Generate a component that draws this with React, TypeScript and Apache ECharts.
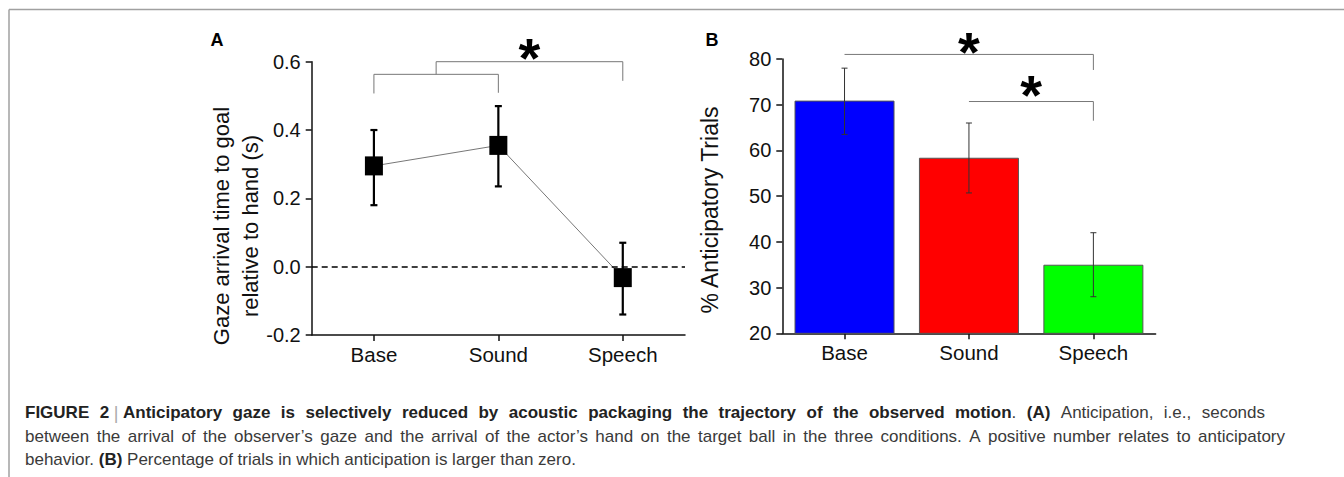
import React, { useEffect, useRef } from "react";
import * as echarts from "echarts";

const categories = ["Base", "Sound", "Speech"];

// Panel A: gaze arrival time (s)
const gazeMean = [0.295, 0.355, -0.032];
const gazeLow = [0.18, 0.235, -0.14];
const gazeHigh = [0.4, 0.47, 0.07];
const gazeMin = -0.2;
const gazeMax = 0.6;
const gazeStep = 0.2;

// Panel B: % anticipatory trials
const pctMean = [70.9, 58.4, 35.0];
const pctLow = [63.5, 50.7, 28.0];
const pctHigh = [78.0, 66.0, 42.0];
const pctMin = 20;
const pctMax = 80;
const pctStep = 10;
const barColors = ["#0000FF", "#FF0000", "#00FF00"];

// significance brackets: from/to category positions, bar level, left/right end levels
const bracketsA = [
  { from: 0, to: 1, top: 0.563, endL: 0.507, endR: 0.509 },
  { from: 0.5, to: 2, top: 0.6, endL: 0.563, endR: 0.544 },
];
const starsA = [1];
const bracketsB = [
  { from: 0, to: 2, top: 81.0, endL: 81.0, endR: 77.6 },
  { from: 1, to: 2, top: 70.7, endL: 70.7, endR: 66.5 },
];
const starsB = [0, 1];

// caption (** toggles bold); first two lines are justified
const captionLines = [
  "**FIGURE 2** | **Anticipatory gaze is selectively reduced by acoustic packaging the trajectory of the observed motion**. **(A)** Anticipation, i.e., seconds",
  "between the arrival of the observer’s gaze and the arrival of the actor’s hand on the target ball in the three conditions. A positive number relates to anticipatory",
  "behavior. **(B)** Percentage of trials in which anticipation is larger than zero.",
];
const captionJustify = [true, true, false];

const FONT = "Liberation Sans, Arial, Helvetica, sans-serif";
const CAP_SIZE = 17;

const errorBar = (lw: number, cap: number, color: string) =>
  (params: any, api: any) => {
    const x = api.value(0);
    const lo = api.coord([x, api.value(1)]);
    const hi = api.coord([x, api.value(2)]);
    const style = { stroke: color, lineWidth: lw, fill: "none" };
    return {
      type: "group",
      children: [
        { type: "line", shape: { x1: lo[0], y1: lo[1], x2: hi[0], y2: hi[1] }, style },
        { type: "line", shape: { x1: lo[0] - cap, y1: lo[1], x2: lo[0] + cap, y2: lo[1] }, style },
        { type: "line", shape: { x1: hi[0] - cap, y1: hi[1], x2: hi[0] + cap, y2: hi[1] }, style },
      ],
    };
  };

type Seg = { t: string; bold: boolean };
function parseLine(line: string): Seg[][] {
  const words: Seg[][] = [];
  let bold = false;
  let cur: Seg[] = [];
  let buf = "";
  const flush = () => { if (buf) { cur.push({ t: buf, bold }); buf = ""; } };
  for (let i = 0; i < line.length; i++) {
    if (line[i] === "*" && line[i + 1] === "*") { flush(); bold = !bold; i++; continue; }
    if (line[i] === " ") { flush(); if (cur.length) words.push(cur); cur = []; continue; }
    buf += line[i];
  }
  flush();
  if (cur.length) words.push(cur);
  return words;
}

export default function App() {
  const ref = useRef<HTMLDivElement>(null);
  useEffect(() => {
    if (!ref.current) return;
    const chart = echarts.init(ref.current, undefined, { renderer: "svg" });

    const axisLine = { show: true, onZero: false, lineStyle: { color: "#111", width: 1.5 } };
    const axisTick = { show: true, length: 6, lineStyle: { color: "#111", width: 1.5 } };

    const baseGraphic: any[] = [
      { type: "line", shape: { x1: 9, y1: 9.5, x2: 1344, y2: 9.5 }, style: { stroke: "#a0a0a0", lineWidth: 1.5 } },
      { type: "line", shape: { x1: 9, y1: 9.5, x2: 9, y2: 477 }, style: { stroke: "#a0a0a0", lineWidth: 1.5 } },
      { type: "text", x: 217, y: 40, style: { text: "A", font: `bold 18px ${FONT}`, fill: "#000", align: "center", verticalAlign: "middle" } },
      { type: "text", x: 712, y: 40, style: { text: "B", font: `bold 18px ${FONT}`, fill: "#000", align: "center", verticalAlign: "middle" } },
      {
        type: "text", x: 236, y: 226, rotation: Math.PI / 2,
        style: { text: "Gaze arrival time to goal\nrelative to hand (s)", font: `22px ${FONT}`, lineHeight: 28.5, fill: "#111", align: "center", verticalAlign: "middle" },
      },
      {
        type: "text", x: 710, y: 210, rotation: Math.PI / 2,
        style: { text: "% Anticipatory Trials", font: `23px ${FONT}`, fill: "#111", align: "center", verticalAlign: "middle" },
      },
    ];

    // caption, justified with measured word widths (gaps beside the "|" stay natural)
    const ctx = document.createElement("canvas").getContext("2d")!;
    const fontOf = (b: boolean) => `${b ? "bold " : ""}${CAP_SIZE}px ${FONT}`;
    const capX = 25;
    const capRight = [1265, 1285, 0];
    const capY = [412.5, 436, 459];
    captionLines.forEach((line, li) => {
      const words = parseLine(line);
      const widths = words.map((w) => w.map((s) => { ctx.font = fontOf(s.bold); return ctx.measureText(s.t).width; }));
      const total = widths.reduce((a, w) => a + w.reduce((x, y) => x + y, 0), 0);
      ctx.font = fontOf(false);
      const space = ctx.measureText(" ").width;
      const isSep = (wi: number) => words[wi] && words[wi][0].t === "|";
      const fixedGaps: boolean[] = words.slice(0, -1).map((_, wi) => isSep(wi) || isSep(wi + 1));
      const nFixed = fixedGaps.filter(Boolean).length;
      const nFlex = fixedGaps.length - nFixed;
      const gap = captionJustify[li] ? (capRight[li] - capX - total - nFixed * space) / nFlex : space;
      let x = capX;
      words.forEach((w, wi) => {
        w.forEach((s, si) => {
          const sep = s.t === "|";
          baseGraphic.push({
            type: "text", x, y: capY[li],
            style: {
              text: s.t, font: sep ? `18px ${FONT}` : fontOf(s.bold),
              fill: sep ? "#aaa" : s.bold ? "#222" : "#3a3a3a",
              align: "left", verticalAlign: "middle",
            },
          });
          x += widths[wi][si];
        });
        x += fixedGaps[wi] ? space : gap;
      });
    });

    const option: any = {
      animation: false,
      backgroundColor: "#fff",
      grid: [
        { left: 311.7, top: 61.7, width: 373.3, height: 273.3 },
        { left: 782.3, top: 59, width: 373.3, height: 274.3 },
      ],
      xAxis: [0, 1].map((g) => ({
        type: "category", gridIndex: g, data: categories, boundaryGap: true,
        axisLine, axisTick: { ...axisTick, alignWithLabel: true },
        axisLabel: { fontFamily: FONT, fontSize: 20.5, color: "#111", margin: 9 },
        splitLine: { show: false },
      })),
      yAxis: [
        {
          type: "value", gridIndex: 0, min: gazeMin, max: gazeMax, interval: gazeStep,
          axisLine, axisTick,
          axisLabel: { fontFamily: FONT, fontSize: 20, color: "#111", margin: 11, formatter: (v: number) => v.toFixed(1) },
          splitLine: { show: false },
        },
        {
          type: "value", gridIndex: 1, min: pctMin, max: pctMax, interval: pctStep,
          axisLine, axisTick,
          axisLabel: { fontFamily: FONT, fontSize: 20, color: "#111", margin: 11 },
          splitLine: { show: false },
        },
      ],
      series: [
        {
          type: "custom", xAxisIndex: 0, yAxisIndex: 0, z: 3,
          renderItem: errorBar(2.2, 3.5, "#000"),
          data: categories.map((_, i) => [i, gazeLow[i], gazeHigh[i]]),
        },
        {
          type: "line", xAxisIndex: 0, yAxisIndex: 0, z: 4,
          data: gazeMean, symbol: "rect", symbolSize: [18, 19],
          itemStyle: { color: "#000" }, lineStyle: { color: "#777", width: 1 },
          markLine: {
            silent: true, symbol: "none", label: { show: false },
            lineStyle: { color: "#000", type: [6, 4], width: 1.5 },
            data: [{ yAxis: 0 }],
          },
        },
        {
          type: "bar", xAxisIndex: 1, yAxisIndex: 1, z: 2, barWidth: 100,
          data: pctMean.map((v, i) => ({ value: v, itemStyle: { color: barColors[i] } })),
          itemStyle: { borderColor: "#555", borderWidth: 1 },
        },
        {
          type: "custom", xAxisIndex: 1, yAxisIndex: 1, z: 3,
          renderItem: errorBar(1, 3, "#333"),
          data: categories.map((_, i) => [i, pctLow[i], pctHigh[i]]),
        },
      ],
      graphic: baseGraphic,
    };
    chart.setOption(option);

    const px = (grid: number, cat: number, v: number) => {
      const finder = { xAxisIndex: grid, yAxisIndex: grid };
      const i0 = Math.floor(cat);
      const f = cat - i0;
      const a = chart.convertToPixel(finder, [i0, v]) as number[];
      if (f === 0) return a;
      const b = chart.convertToPixel(finder, [i0 + 1, v]) as number[];
      return [a[0] + (b[0] - a[0]) * f, a[1]];
    };
    const ann: any[] = [];
    const addBrackets = (grid: number, list: any[], stars: number[], starDy: number[]) => {
      const mids: number[][] = [];
      list.forEach((b) => {
        const p1 = px(grid, b.from, b.endL);
        const p2 = px(grid, b.from, b.top);
        const p3 = px(grid, b.to, b.top);
        const p4 = px(grid, b.to, b.endR);
        ann.push({ type: "polyline", shape: { points: [p1, p2, p3, p4] }, style: { stroke: "#777", lineWidth: 1, fill: "none" } });
        mids.push([(p2[0] + p3[0]) / 2, p2[1]]);
      });
      stars.forEach((bi, k) => {
        const m = mids[bi];
        ann.push({ type: "text", x: m[0], y: m[1] - starDy[k], style: { text: "*", font: `bold 56px ${FONT}`, fill: "#000", align: "center", verticalAlign: "middle" } });
      });
    };
    addBrackets(0, bracketsA, starsA, [4.4]);
    addBrackets(1, bracketsB, starsB, [3, 7]);
    chart.setOption({ graphic: [...baseGraphic, ...ann] }, { replaceMerge: ["graphic"] });

    return () => chart.dispose();
  }, []);
  return <div ref={ref} style={{ position: "absolute", left: 0, top: 0, width: 1344, height: 477 }} />;
}
